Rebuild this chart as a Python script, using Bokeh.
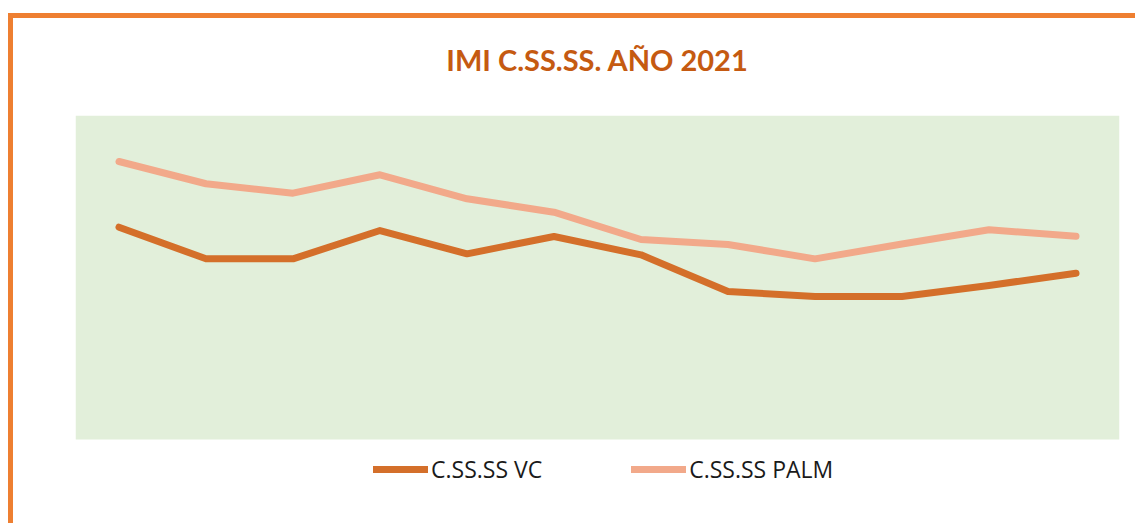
from bokeh.plotting import figure
from bokeh.models import Range1d, FactorRange, Legend, LegendItem, ColumnDataSource, BoxAnnotation
from bokeh.embed import file_html
from bokeh.resources import INLINE

months = ["Ene", "Feb", "Mar", "Abr", "May", "Jun", "Jul", "Ago", "Sep", "Oct", "Nov", "Dic"]
vc = [19.66, 16.73, 16.73, 19.35, 17.19, 18.80, 17.10, 13.70, 13.24, 13.24, 14.26, 15.40]
palm = [25.74, 23.68, 22.81, 24.51, 22.29, 21.05, 18.52, 18.06, 16.73, 18.10, 19.42, 18.82]

title_text = "IMI C.SS.SS. AÑO 2021"
label_vc = "C.SS.SS VC"
label_palm = "C.SS.SS PALM"

y_max = 30
y_legend_room = -6.57   # space under the plotting area kept for the legend

src = ColumnDataSource(dict(m=months, vc=vc, palm=palm))

p = figure(width=1135, height=523, x_range=FactorRange(*months), y_range=Range1d(y_legend_room, y_max),
           output_backend="svg", toolbar_location=None,
           min_border_left=75, min_border_right=16, min_border_top=115, min_border_bottom=13)
p.background_fill_color = "white"
p.border_fill_color = "white"
p.outline_line_color = None
p.xaxis.visible = False
p.yaxis.visible = False
p.xgrid.visible = False
p.ygrid.visible = False

# plot area (green) from the value 0 upward
area = BoxAnnotation(bottom=0, fill_color="#E2EFDA", fill_alpha=1.0, line_color=None, level="underlay")
p.add_layout(area)

p.title.text = title_text
p.title.align = "center"
p.title.standoff = 78
p.title.text_font = "Lato"
p.title.text_font_style = "bold"
p.title.text_font_size = "29px"
p.title.text_color = "#C55A11"

r_vc = p.line(x="m", y="vc", source=src, line_color="#D46F2A", line_width=7,
              line_cap="round", line_join="round")
r_palm = p.line(x="m", y="palm", source=src, line_color="#F2A98A", line_width=7,
                line_cap="round", line_join="round")

legend = Legend(items=[LegendItem(label=label_vc, renderers=[r_vc]),
                       LegendItem(label=label_palm, renderers=[r_palm])],
                orientation="horizontal", location=(298, 25))
legend.background_fill_alpha = 0
legend.border_line_color = None
legend.label_text_font = "Open Sans"
legend.label_text_font_size = "23px"
legend.label_text_color = "#1a1a1a"
legend.glyph_width = 55
legend.label_standoff = 3
legend.spacing = 89
legend.padding = 0
legend.margin = 0
p.add_layout(legend)

template = """
{% block preamble %}
<style>
  body::before {
    content: "";
    position: fixed;
    left: 8px;
    top: 13px;
    right: -20px;
    bottom: -20px;
    border-top: 5px solid #EE7F31;
    border-left: 5px solid #EE7F31;
    pointer-events: none;
    z-index: 10;
  }
</style>
{% endblock %}
"""

open("out.html", "w").write(file_html(p, INLINE, template=template))
